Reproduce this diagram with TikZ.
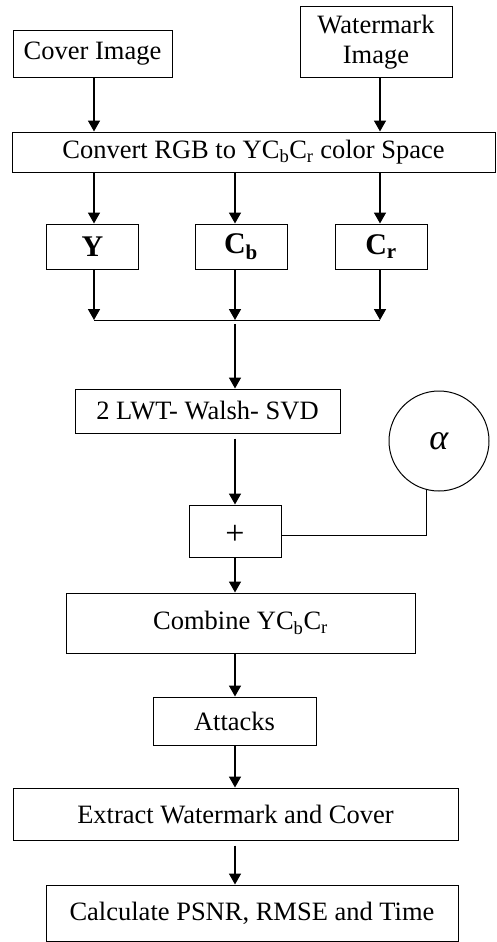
\documentclass[tikz,border=0pt]{standalone}
\usepackage{fontspec}
\setmainfont{Liberation Serif}
\usepackage{tikz}
\usetikzlibrary{arrows.meta}

\tikzset{
  blk/.style={draw, line width=1pt, inner sep=0pt, align=center},
  chan/.style={blk, minimum width=92pt, minimum height=45pt, font=\fontsize{30}{34}\selectfont\bfseries},
  flow/.style={->, >={Triangle[length=11pt,width=12pt]}, line width=1.6pt},
  thinline/.style={line width=1pt}
}

\begin{document}
\begin{tikzpicture}[x=1pt,y=-1pt]
  \fontsize{26.5}{30}\selectfont
  \useasboundingbox (0,0) rectangle (496,942);
  % main vertical axis
  \coordinate (axis) at (235,0);

  \node[blk, minimum width=159pt, minimum height=46pt] (cover) at (92.5,54) {Cover Image};
  \node[blk, minimum width=152pt, minimum height=70pt] (water) at (376,42) {Watermark\\Image};
  \node[blk, minimum width=483pt, minimum height=40pt] (convert) at (253.5,152)
     {Convert RGB to YC\textsubscript{b}C\textsubscript{r} color Space};

  \node[chan] (Y) at (92.5,246.5) {Y};
  \node[chan] (Cb) at (241,246.5) {C\textsubscript{b}};
  \node[chan] (Cr) at (381,246.5) {C\textsubscript{r}};

  \coordinate (mleft) at (94,320);
  \coordinate (mmid) at (235,320);
  \coordinate (mright) at (380,320);

  \node[blk, minimum width=265pt, minimum height=44pt] (lwt) at (207.5,411) {2 LWT- Walsh- SVD};
  \node[blk, circle, minimum size=100pt] (alpha) at (439,441) {\fontsize{36}{40}\selectfont\textit{α}};
  \node[blk, minimum width=92pt, minimum height=52pt, text height=26pt, text depth=0pt] (plus) at (235,531) {\fontsize{34}{40}\selectfont +};
  \node[blk, minimum width=349pt, minimum height=60pt] (combine) at (240.5,623)
     {Combine YC\textsubscript{b}C\textsubscript{r}};
  \node[blk, minimum width=163pt, minimum height=48pt] (attacks) at (234.5,721) {Attacks};
  \node[blk, minimum width=445pt, minimum height=52pt] (extract) at (235.5,814) {Extract Watermark and Cover};
  \node[blk, minimum width=412pt, minimum height=56pt] (calc) at (252,913) {Calculate PSNR, RMSE and Time};

  % inputs
  \draw[flow] (cover.south -| mleft) -- (convert.north -| mleft);
  \draw[flow] (water.south -| mright) -- (convert.north -| mright);

  % split into channels
  \draw[flow] (convert.south -| mleft) -- (Y.north -| mleft);
  \draw[flow] (convert.south -| axis) -- (Cb.north -| axis);
  \draw[flow] (convert.south -| mright) -- (Cr.north -| mright);

  % merge
  \draw[flow] (Y.south -| mleft) -- (mleft);
  \draw[flow] (Cb.south -| axis) -- (mmid);
  \draw[flow] (Cr.south -| mright) -- (mright);
  \draw[thinline] (mleft) -- (mright);
  \draw[flow, shorten <=4pt] (mmid) -- (lwt.north -| axis);

  \draw[flow, shorten <=5pt] (lwt.south -| axis) -- (plus.north);
  \draw[thinline] (alpha.-104) |- ([yshift=-4pt]plus.east);

  \draw[flow] (plus.south) -- (combine.north -| axis);
  \draw[flow] (combine.south -| axis) -- (attacks.north -| axis);
  \draw[flow] (attacks.south -| axis) -- (extract.north -| axis);
  \draw[flow, shorten <=5pt] (extract.south -| axis) -- (calc.north -| axis);
\end{tikzpicture}
\end{document}
